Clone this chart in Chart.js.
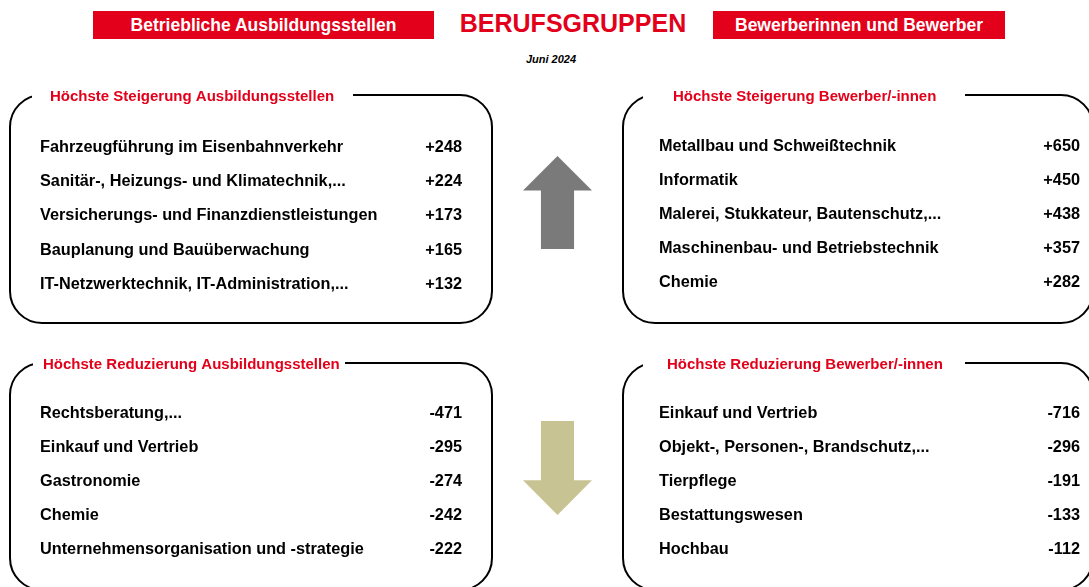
<!DOCTYPE html>
<html lang="de">
<head>
<meta charset="utf-8">
<script src="https://cdn.jsdelivr.net/npm/chart.js@4"></script>
<style>
  html, body { margin: 0; padding: 0; background: #fff; }
  body { width: 1089px; height: 587px; position: relative; overflow: hidden; font-family: "Liberation Sans", Arial, sans-serif; }
  .band { position: absolute; top: 11px; height: 28px; background: #e2001a; color: #fff; font-weight: bold; font-size: 17.5px; line-height: 28px; text-align: center; }
  #title { position: absolute; left: 423px; width: 300px; top: 9px; text-align: center; color: #e2001a; font-weight: bold; font-size: 25px; }
  #sub { position: absolute; left: 451px; width: 200px; top: 53px; text-align: center; font-weight: bold; font-style: italic; font-size: 11px; }
  .box { position: absolute; }
  .arrow { position: absolute; left: 523px; width: 69px; }
  #up { top: 156px; height: 93px; background: #7a7a7a; clip-path: polygon(50% 0, 100% 37%, 74% 37%, 74% 100%, 26% 100%, 26% 37%, 0 37%); }
  #down { top: 421px; height: 94px; background: #c8c393; clip-path: polygon(26% 0, 74% 0, 74% 63%, 100% 63%, 50% 100%, 0 63%, 26% 63%); }
</style>
</head>
<body>
<div class="band" style="left:93px; width:341px;">Betriebliche Ausbildungsstellen</div>
<div id="title">BERUFSGRUPPEN</div>
<div class="band" style="left:713px; width:292px;">Bewerberinnen und Bewerber</div>
<div id="sub">Juni 2024</div>
<div class="arrow" id="up"></div>
<div class="arrow" id="down"></div>

<div class="box" style="left:0; top:80px; width:500px; height:252px;"><canvas id="boxStellenPlus"></canvas></div>
<div class="box" style="left:610px; top:80px; width:490px; height:252px;"><canvas id="boxBewerberPlus"></canvas></div>
<div class="box" style="left:0; top:348px; width:500px; height:250px;"><canvas id="boxStellenMinus"></canvas></div>
<div class="box" style="left:610px; top:348px; width:490px; height:250px;"><canvas id="boxBewerberMinus"></canvas></div>

<script>
// Höchste Steigerung Ausbildungsstellen
const stellenPlusBerufe = ['Fahrzeugführung im Eisenbahnverkehr', 'Sanitär-, Heizungs- und Klimatechnik,...', 'Versicherungs- und Finanzdienstleistungen', 'Bauplanung und Bauüberwachung', 'IT-Netzwerktechnik, IT-Administration,...'];
const stellenPlusWerte = [248, 224, 173, 165, 132];

// Höchste Steigerung Bewerber/-innen
const bewerberPlusBerufe = ['Metallbau und Schweißtechnik', 'Informatik', 'Malerei, Stukkateur, Bautenschutz,...', 'Maschinenbau- und Betriebstechnik', 'Chemie'];
const bewerberPlusWerte = [650, 450, 438, 357, 282];

// Höchste Reduzierung Ausbildungsstellen
const stellenMinusBerufe = ['Rechtsberatung,...', 'Einkauf und Vertrieb', 'Gastronomie', 'Chemie', 'Unternehmensorganisation und -strategie'];
const stellenMinusWerte = [-471, -295, -274, -242, -222];

// Höchste Reduzierung Bewerber/-innen
const bewerberMinusBerufe = ['Einkauf und Vertrieb', 'Objekt-, Personen-, Brandschutz,...', 'Tierpflege', 'Bestattungswesen', 'Hochbau'];
const bewerberMinusWerte = [-716, -296, -191, -133, -112];

const RED = '#e2001a';
const FONT = '"Liberation Sans", Arial, sans-serif';

function fmt(v) {
  return (v > 0 ? '+' : '') + v;
}

// rounded frame with a gap in the top line for the heading
const framePlugin = {
  id: 'frame',
  beforeDraw(chart, args, f) {
    const ctx = chart.ctx;
    const r = f.r, x = f.x, y = f.y, w = f.w, h = f.h;
    ctx.save();
    ctx.strokeStyle = '#000';
    ctx.lineWidth = 2;
    ctx.beginPath();
    ctx.moveTo(x + r, y);
    ctx.arcTo(x + w, y, x + w, y + h, r);
    ctx.arcTo(x + w, y + h, x, y + h, r);
    ctx.arcTo(x, y + h, x, y, r);
    ctx.arcTo(x, y, x + w, y, r);
    ctx.closePath();
    ctx.stroke();
    ctx.fillStyle = '#fff';
    ctx.fillRect(f.gapStart, y - 6, f.gapEnd - f.gapStart, 12);
    ctx.fillStyle = RED;
    ctx.font = 'bold 15px ' + FONT;
    ctx.textBaseline = 'middle';
    ctx.fillText(f.title, f.titleX, y + 1.5);
    ctx.restore();
  }
};

function createBox(canvasId, berufe, werte, frame, pad) {
  const ctx = document.getElementById(canvasId).getContext('2d');
  const tickFont = { family: FONT, size: 16.3, weight: 'bold' };
  new Chart(ctx, {
    type: 'bar',
    data: {
      labels: berufe,
      datasets: [{
        data: werte,
        backgroundColor: 'rgba(0,0,0,0)',
        borderWidth: 0
      }]
    },
    options: {
      indexAxis: 'y',
      responsive: true,
      maintainAspectRatio: false,
      animation: false,
      events: [],
      layout: { padding: pad },
      plugins: {
        legend: { display: false },
        tooltip: { enabled: false },
        frame: frame
      },
      scales: {
        x: { display: false },
        y: {
          position: 'left',
          offset: true,
          grid: { display: false },
          border: { display: false },
          afterFit(scale) { scale.width = 360; },
          ticks: { crossAlign: 'far', color: '#000', font: tickFont, padding: 0 }
        },
        y2: {
          type: 'category',
          position: 'right',
          labels: werte.map(fmt),
          offset: true,
          grid: { display: false },
          border: { display: false },
          afterFit(scale) { scale.width = 50; },
          ticks: { crossAlign: 'far', color: '#000', font: tickFont, padding: 0 }
        }
      }
    },
    plugins: [framePlugin]
  });
}

createBox('boxStellenPlus', stellenPlusBerufe, stellenPlusWerte,
  { x: 10, y: 15, w: 482, h: 228, r: 32, gapStart: 32, gapEnd: 353, titleX: 50, title: 'Höchste Steigerung Ausbildungsstellen' },
  { left: 40, right: 38, top: 50, bottom: 30 });

createBox('boxBewerberPlus', bewerberPlusBerufe, bewerberPlusWerte,
  { x: 13, y: 15, w: 470, h: 228, r: 32, gapStart: 33, gapEnd: 355, titleX: 63, title: 'Höchste Steigerung Bewerber/-innen' },
  { left: 49, right: 20, top: 49, bottom: 32 });

createBox('boxStellenMinus', stellenMinusBerufe, stellenMinusWerte,
  { x: 10, y: 15, w: 482, h: 227, r: 32, gapStart: 33, gapEnd: 345, titleX: 43, title: 'Höchste Reduzierung Ausbildungsstellen' },
  { left: 40, right: 38, top: 48.5, bottom: 31 });

createBox('boxBewerberMinus', bewerberMinusBerufe, bewerberMinusWerte,
  { x: 13, y: 15, w: 470, h: 227, r: 32, gapStart: 33, gapEnd: 355, titleX: 57, title: 'Höchste Reduzierung Bewerber/-innen' },
  { left: 49, right: 20, top: 48.5, bottom: 31 });
</script>
</body>
</html>
